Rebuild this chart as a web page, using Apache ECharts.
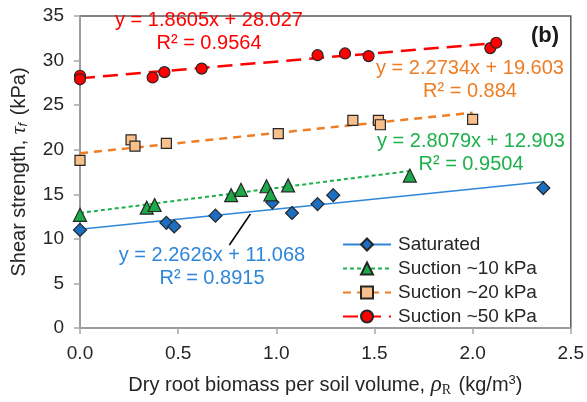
<!DOCTYPE html>
<html>
<head>
<meta charset="utf-8">
<script src="https://cdn.jsdelivr.net/npm/echarts@6/dist/echarts.min.js"></script>
<style>
  html, body { margin: 0; padding: 0; background: #ffffff; }
  #chart { width: 587px; height: 402px; }
</style>
</head>
<body>
<div id="chart"></div>
<script>
// Series names (legend order)
const seriesNames = ['Saturated', 'Suction ~10 kPa', 'Suction ~20 kPa', 'Suction ~50 kPa'];

// Measured shear strength (kPa) against dry root biomass per soil volume (kg/m3)
const saturatedX = [0, 0.44, 0.48, 0.69, 0.98, 1.08, 1.21, 1.29, 2.36];
const saturatedY = [11.0, 11.8, 11.4, 12.6, 14.1, 12.9, 13.9, 14.9, 15.7];

const suction10X = [0, 0.34, 0.38, 0.77, 0.82, 0.95, 0.97, 1.06, 1.68];
const suction10Y = [12.7, 13.5, 13.8, 14.9, 15.5, 15.9, 15.0, 16.0, 17.1];

const suction20X = [0, 0.26, 0.28, 0.44, 1.01, 1.39, 1.52, 1.53, 2.0];
const suction20Y = [18.8, 21.1, 20.4, 20.7, 21.8, 23.3, 23.3, 22.8, 23.4];

const suction50X = [0, 0, 0.37, 0.43, 0.62, 1.21, 1.35, 1.47, 2.09, 2.12];
const suction50Y = [28.3, 27.9, 28.1, 28.7, 29.1, 30.6, 30.8, 30.5, 31.4, 32.0];

// Linear trendlines: y = slope * x + intercept
const fitSlopes = [2.2626, 2.8079, 2.2734, 1.8605];
const fitIntercepts = [11.068, 12.903, 19.603, 28.027];
const fitR2 = ['0.8915', '0.9504', '0.884', '0.9564'];

// Axis tick labels
const xTickLabels = ['0.0', '0.5', '1.0', '1.5', '2.0', '2.5'];
const yTickLabels = ['0', '5', '10', '15', '20', '25', '30', '35'];

const FONT = '"Liberation Sans", Arial, sans-serif';
const SERIF = '"Liberation Serif", "Times New Roman", serif';

const xs = [saturatedX, suction10X, suction20X, suction50X];
const ys = [saturatedY, suction10Y, suction20Y, suction50Y];

const styles = [
  { symbol: 'diamond',  size: 13, fill: '#1B6EC2', line: '#2E86D9', width: 1.5, dash: 'solid' },
  { symbol: 'triangle', size: 13, fill: '#1DA84A', line: '#1DB04B', width: 2,   dash: [4, 3] },
  { symbol: 'rect',     size: 10, fill: '#F9C08C', line: '#EE7D23', width: 2.5, dash: [8, 6] },
  { symbol: 'circle',   size: 11, fill: '#FF0000', line: '#FF0000', width: 2.5, dash: [15, 8] }
];

const eqPos = [
  { x: 212, y: 267 },
  { x: 471, y: 153 },
  { x: 470, y: 80 },
  { x: 209, y: 32 }
];

const series = [];
seriesNames.forEach((name, i) => {
  const st = styles[i];
  const xmin = Math.min(...xs[i]);
  const xmax = Math.max(...xs[i]);
  const fitLine = {
    name: name,
    type: 'line',
    z: 2,
    data: [
      [xmin, fitSlopes[i] * xmin + fitIntercepts[i]],
      [xmax, fitSlopes[i] * xmax + fitIntercepts[i]]
    ],
    showSymbol: false,
    symbol: st.symbol,
    symbolSize: st.size,
    itemStyle: { color: st.fill, borderColor: '#262626', borderWidth: 1.2 },
    lineStyle: { color: st.line, width: st.width, type: st.dash },
    silent: true
  };
  if (i === 0) {
    // leader from the equation to its trendline
    fitLine.markLine = {
      silent: true,
      symbol: 'none',
      label: { show: false },
      lineStyle: { color: '#000000', width: 1.5, type: 'solid' },
      data: [[{ coord: [0.868, 12.79] }, { coord: [0.761, 9.31] }]]
    };
  }
  series.push(fitLine);
  series.push({
    name: name,
    type: 'scatter',
    z: 3,
    symbol: st.symbol,
    symbolSize: st.size,
    itemStyle: { color: st.fill, borderColor: '#262626', borderWidth: 1.2, opacity: 1 },
    data: xs[i].map((x, k) => [x, ys[i][k]]),
    silent: true
  });
});

const graphics = seriesNames.map((name, i) => ({
  type: 'text',
  x: eqPos[i].x,
  y: eqPos[i].y,
  style: {
    text: 'y = ' + fitSlopes[i] + 'x + ' + fitIntercepts[i] + '\nR\u00B2 = ' + fitR2[i],
    font: '20px ' + FONT,
    fill: styles[i].line,
    textAlign: 'center',
    textVerticalAlign: 'middle',
    lineHeight: 23
  },
  z: 10
}));
// panel tag
graphics.push({
  type: 'text',
  x: 545,
  y: 36,
  style: {
    text: '(b)',
    font: 'bold 22px ' + FONT,
    fill: '#1a1a1a',
    textAlign: 'center',
    textVerticalAlign: 'middle'
  },
  z: 10
});

const chart = echarts.init(document.getElementById('chart'), null, { renderer: 'canvas' });
chart.setOption({
  animation: false,
  backgroundColor: '#ffffff',
  textStyle: { fontFamily: FONT },
  grid: {
    left: 79, top: 16, right: 15, bottom: 74,
    show: true, borderColor: '#595959', borderWidth: 1.5, backgroundColor: 'transparent'
  },
  xAxis: {
    type: 'value',
    min: 0, max: 2.5, interval: 0.5,
    axisLine: { show: true, lineStyle: { color: '#A6A6A6', width: 1.5 } },
    axisTick: { show: true, inside: false, length: 6, lineStyle: { color: '#A6A6A6', width: 1.5 } },
    splitLine: { show: false },
    axisLabel: {
      fontSize: 19, color: '#262626', margin: 16, fontFamily: FONT,
      formatter: (v) => xTickLabels[Math.round(v / 0.5)]
    },
    name: '{a|Dry root biomass per soil volume, }{r|\u03C1}{s|R}{a| (kg/m}{p|3}{a|)}',
    nameLocation: 'middle',
    nameGap: 45,
    nameTextStyle: {
      rich: {
        a: { fontSize: 20, color: '#262626', fontFamily: FONT },
        r: { fontSize: 23, color: '#262626', fontFamily: SERIF, fontStyle: 'italic' },
        s: { fontSize: 14, color: '#262626', fontFamily: SERIF, padding: [10, 2, 0, 0] },
        p: { fontSize: 13, color: '#262626', fontFamily: FONT, padding: [0, 0, 9, 0] }
      }
    }
  },
  yAxis: {
    type: 'value',
    min: 0, max: 35, interval: 5,
    axisLine: { show: true, lineStyle: { color: '#A6A6A6', width: 1.5 } },
    axisTick: { show: true, inside: false, length: 6, lineStyle: { color: '#A6A6A6', width: 1.5 } },
    splitLine: { show: false },
    axisLabel: {
      fontSize: 19, color: '#262626', margin: 16, fontFamily: FONT,
      formatter: (v) => yTickLabels[Math.round(v / 5)]
    },
    name: '{a|Shear strength, }{t|\u03C4}{s|f}{a| (kPa)}',
    nameLocation: 'middle',
    nameGap: 50,
    nameTextStyle: {
      rich: {
        a: { fontSize: 20, color: '#262626', fontFamily: FONT },
        t: { fontSize: 22, color: '#262626', fontFamily: SERIF, fontStyle: 'italic' },
        s: { fontSize: 13, color: '#262626', fontFamily: FONT, fontStyle: 'italic', padding: [9, 2, 0, 0] }
      }
    }
  },
  legend: {
    orient: 'vertical',
    left: 342,
    top: 235,
    itemWidth: 48,
    itemHeight: 15,
    itemGap: 5,
    padding: 0,
    data: seriesNames,
    textStyle: { fontSize: 19, color: '#262626', fontFamily: FONT, padding: [0, 0, 0, 2] }
  },
  graphic: graphics,
  series: series
});
</script>
</body>
</html>
